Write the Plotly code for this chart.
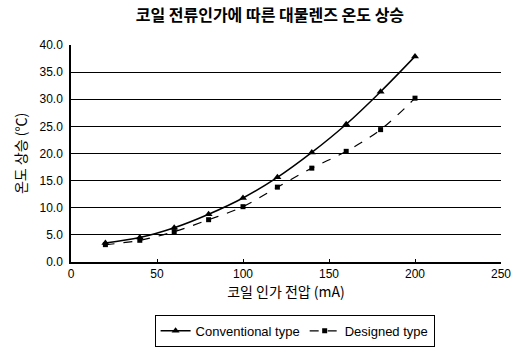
import plotly.graph_objects as go

currents = [20, 40, 60, 80, 100, 120, 140, 160, 180, 200]
conventional = [3.5, 4.5, 6.3, 8.8, 11.8, 15.6, 20.2, 25.4, 31.4, 37.9]
designed = [3.2, 4.0, 5.6, 7.8, 10.2, 13.8, 17.3, 20.4, 24.4, 30.2]
x_ticks = [0, 50, 100, 150, 200, 250]
y_ticks = [0, 5, 10, 15, 20, 25, 30, 35, 40]

title = "코일 전류인가에 따른 대물렌즈 온도 상승"
x_title = "코일 인가 전압 (mA)"
y_title = "온도 상승 (℃)"

font_family = "Liberation Sans, Noto Sans CJK KR, sans-serif"
kr_font = "Noto Sans CJK KR, sans-serif"

fig = go.Figure()
fig.add_trace(go.Scatter(
    x=currents, y=conventional, name="Conventional type",
    mode="lines+markers", line=dict(color="black", width=1.5, shape="spline"),
    marker=dict(symbol="triangle-up", size=7, color="black"),
))
fig.add_trace(go.Scatter(
    x=currents, y=designed, name="Designed type",
    mode="lines+markers", line=dict(color="black", width=1.2, dash="dash", shape="spline"),
    marker=dict(symbol="square", size=5, color="black"),
))

fig.update_layout(
    width=519, height=352,
    paper_bgcolor="white", plot_bgcolor="white",
    margin=dict(l=71, r=18, t=45, b=90),
    font=dict(family=font_family, size=12, color="black"),
    title=dict(text="<b>" + title + "</b>", x=0.52, xanchor="center",
               yref="container", y=0.955, yanchor="middle",
               font=dict(family=kr_font, size=16, color="black")),
    xaxis=dict(range=[0, 250], tickvals=x_ticks, showgrid=False, zeroline=False,
               showline=True, linecolor="black", linewidth=1.5,
               ticks="inside", ticklen=3, tickcolor="black", automargin=False,
               title=dict(text=x_title, font=dict(family=kr_font, size=14), standoff=4),
               tickfont=dict(size=12)),
    yaxis=dict(range=[0, 40], tickvals=y_ticks, tickformat=".1f", showgrid=True,
               gridcolor="black", gridwidth=1.3, zeroline=False,
               showline=True, linecolor="black", linewidth=1.5, automargin=False,
               ticks="", ticklabelstandoff=4,
               title=dict(text=y_title, font=dict(family=kr_font, size=14), standoff=10),
               tickfont=dict(size=12)),
    legend=dict(orientation="h", x=0.52, xanchor="center",
                yref="container", y=0.06, yanchor="middle",
                bordercolor="black", borderwidth=1, bgcolor="white",
                font=dict(size=13), itemwidth=30, tracegroupgap=0),
    showlegend=True,
)

fig.write_html("out.html", post_script="document.body.style.margin='0';",
               config={"displayModeBar": False})
